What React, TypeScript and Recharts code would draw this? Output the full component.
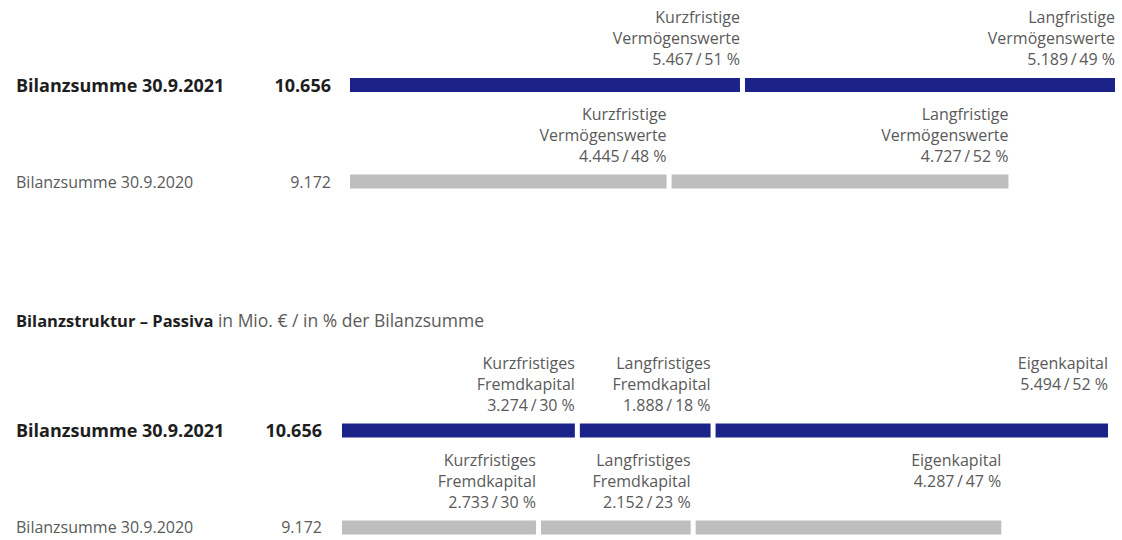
import React from 'react';
import { BarChart, Bar, XAxis, YAxis, Cell, LabelList } from 'recharts';

// ---------- data ----------
const categories = ['Bilanzsumme 30.9.2021', 'Bilanzsumme 30.9.2020'];
const rowColors = ['#1b2389', '#bebebe'];

const aktivaKurz = [5467, 4445];
const aktivaKurzPct = [51, 48];
const aktivaLang = [5189, 4727];
const aktivaLangPct = [49, 52];

const passivaKurz = [3274, 2733];
const passivaKurzPct = [30, 30];
const passivaLang = [1888, 2152];
const passivaLangPct = [18, 23];
const passivaEigen = [5494, 4287];
const passivaEigenPct = [52, 47];

const aktivaKurzName = ['Kurzfristige', 'Vermögenswerte'];
const aktivaLangName = ['Langfristige', 'Vermögenswerte'];
const passivaKurzName = ['Kurzfristiges', 'Fremdkapital'];
const passivaLangName = ['Langfristiges', 'Fremdkapital'];
const passivaEigenName = ['Eigenkapital'];

const titleBold = 'Bilanzstruktur – Passiva';
const titleRest = ' in Mio. € / in % der Bilanzsumme';

// ---------- helpers ----------
const FONT = "'Open Sans', 'Noto Sans', sans-serif";
const fmt = (v: number) => String(v).replace(/\B(?=(\d{3})+(?!\d))/g, '.');
const valLine = (v: number, p: number) => `${fmt(v)}\u2009/\u2009${p} %`;

const aktivaData = categories.map((name, i) => ({
  name,
  total: aktivaKurz[i] + aktivaLang[i],
  kurz: aktivaKurz[i],
  lang: aktivaLang[i],
}));
const passivaData = categories.map((name, i) => ({
  name,
  total: passivaKurz[i] + passivaLang[i] + passivaEigen[i],
  kurz: passivaKurz[i],
  lang: passivaLang[i],
  eigen: passivaEigen[i],
}));
const maxTotal = Math.max(...aktivaData.map((d) => d.total), ...passivaData.map((d) => d.total));

const GAP = 2.5;

const makeShape = (isFirst: boolean, isLast: boolean) => (props: any) => {
  const { x, y, width, height, fill } = props;
  const x0 = x + (isFirst ? 0 : GAP);
  const x1 = x + width - (isLast ? 0 : GAP);
  return <rect x={x0} y={y} width={Math.max(0, x1 - x0)} height={height} fill={fill} />;
};

const makeLabel = (name: string[], values: number[], pcts: number[], isLast: boolean) => (props: any) => {
  const vb = props.viewBox || {};
  const x = props.x ?? vb.x;
  const y = props.y ?? vb.y;
  const width = props.width ?? vb.width;
  const index = props.index ?? 0;
  const right = x + width - (isLast ? 0 : GAP);
  const lines = [...name, valLine(values[index], pcts[index])];
  return (
    <text x={right} y={y} textAnchor="end" fontFamily={FONT} fontSize={16} fill="#5a5a5a">
      {lines.map((l, k) => (
        <tspan key={k} x={right} y={y - 61 + k * 21} dominantBaseline="central">
          {l}
        </tspan>
      ))}
    </text>
  );
};

const makeTick = (data: any[], totalX: number) => (props: any) => {
  const { y, payload } = props;
  const i = categories.indexOf(payload.value);
  const bold = i === 0;
  const common = {
    y,
    dominantBaseline: 'central' as const,
    fontFamily: FONT,
    fontSize: bold ? 18 : 16,
    fontWeight: bold ? 700 : 400,
    fill: bold ? '#1e1e1e' : '#5a5a5a',
  };
  return (
    <g>
      <text x={16} {...common}>
        {payload.value}
      </text>
      <text x={totalX} textAnchor="end" {...common}>
        {fmt(data[i].total)}
      </text>
    </g>
  );
};

export default function App() {
  return (
    <div
      style={{
        position: 'absolute',
        left: 0,
        top: 0,
        width: 1122,
        height: 540,
        overflow: 'hidden',
        background: '#ffffff',
      }}
    >
      <div style={{ position: 'absolute', left: 0, top: 0 }}>
        <BarChart
          width={1122}
          height={240}
          data={aktivaData}
          layout="vertical"
          margin={{ top: 37, right: 7, bottom: 10, left: 0 }}
          barSize={14}
        >
          <XAxis type="number" hide domain={[0, maxTotal]} scale="linear" allowDataOverflow />
          <YAxis
            type="category"
            dataKey="name"
            width={350}
            axisLine={false}
            tickLine={false}
            interval={0}
            tick={makeTick(aktivaData, 331)}
          />
          <Bar dataKey="kurz" stackId="a" isAnimationActive={false} shape={makeShape(true, false)}>
            {aktivaData.map((_, i) => (
              <Cell key={i} fill={rowColors[i]} />
            ))}
            <LabelList dataKey="kurz" content={makeLabel(aktivaKurzName, aktivaKurz, aktivaKurzPct, false)} />
          </Bar>
          <Bar dataKey="lang" stackId="a" isAnimationActive={false} shape={makeShape(false, true)}>
            {aktivaData.map((_, i) => (
              <Cell key={i} fill={rowColors[i]} />
            ))}
            <LabelList dataKey="lang" content={makeLabel(aktivaLangName, aktivaLang, aktivaLangPct, true)} />
          </Bar>
        </BarChart>
      </div>

      <div
        style={{
          position: 'absolute',
          left: 16,
          top: 309,
          fontFamily: FONT,
          fontSize: 17.5,
          lineHeight: '22px',
          color: '#5a5a5a',
          whiteSpace: 'nowrap',
        }}
      >
        <span style={{ fontWeight: 700, color: '#1e1e1e', fontSize: 16.5 }}>{titleBold}</span>
        {titleRest}
      </div>

      <div style={{ position: 'absolute', left: 0, top: 300 }}>
        <BarChart
          width={1122}
          height={280}
          data={passivaData}
          layout="vertical"
          margin={{ top: 81.5, right: 14, bottom: 4.5, left: 0 }}
          barSize={14}
        >
          <XAxis type="number" hide domain={[0, maxTotal]} scale="linear" allowDataOverflow />
          <YAxis
            type="category"
            dataKey="name"
            width={342}
            axisLine={false}
            tickLine={false}
            interval={0}
            tick={makeTick(passivaData, 322)}
          />
          <Bar dataKey="kurz" stackId="p" isAnimationActive={false} shape={makeShape(true, false)}>
            {passivaData.map((_, i) => (
              <Cell key={i} fill={rowColors[i]} />
            ))}
            <LabelList dataKey="kurz" content={makeLabel(passivaKurzName, passivaKurz, passivaKurzPct, false)} />
          </Bar>
          <Bar dataKey="lang" stackId="p" isAnimationActive={false} shape={makeShape(false, false)}>
            {passivaData.map((_, i) => (
              <Cell key={i} fill={rowColors[i]} />
            ))}
            <LabelList dataKey="lang" content={makeLabel(passivaLangName, passivaLang, passivaLangPct, false)} />
          </Bar>
          <Bar dataKey="eigen" stackId="p" isAnimationActive={false} shape={makeShape(false, true)}>
            {passivaData.map((_, i) => (
              <Cell key={i} fill={rowColors[i]} />
            ))}
            <LabelList dataKey="eigen" content={makeLabel(passivaEigenName, passivaEigen, passivaEigenPct, true)} />
          </Bar>
        </BarChart>
      </div>
    </div>
  );
}
